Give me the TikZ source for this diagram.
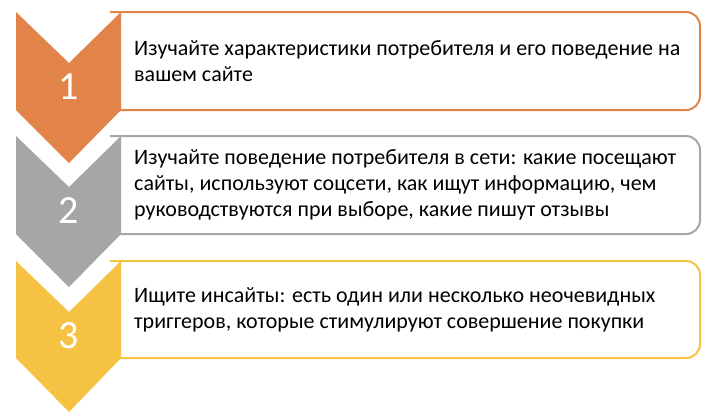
\documentclass[tikz,border=0pt]{standalone}
\usepackage{fontspec}
\setmainfont{Carlito}
\definecolor{cOrange}{HTML}{E2844A}
\definecolor{cGray}{HTML}{A6A6A6}
\definecolor{cGold}{HTML}{F5C244}
\begin{document}
\begin{tikzpicture}[x=1pt,y=-1pt,
  boxline/.style={line width=2pt,rounded corners=14pt},
  numtext/.style={text=white,font=\fontsize{40}{40}\selectfont,inner sep=0pt},
  bodytext/.style={anchor=west,align=left,inner sep=0pt,font=\fontsize{22}{26}\selectfont,text=black}]
\useasboundingbox (0,0) rectangle (714,418);
\fill[white] (0,0) rectangle (714,418);
% step 1
\draw[boxline,draw=cOrange] (110,12) -- (700,12) -- (700,110) -- (110,110);
\fill[cOrange] (16,12) -- (69,63) -- (121,12) -- (121,110) -- (69,163) -- (16,110) -- cycle;
\node[numtext] (n1) at (69,87) {1};
\node[bodytext] (t1) at (134,61) {Изучайте характеристики потребителя и его поведение на\\вашем сайте};
% step 2
\draw[boxline,draw=cGray] (110,136) -- (700,136) -- (700,234) -- (110,234);
\fill[cGray] (16,136) -- (69,187) -- (121,136) -- (121,234) -- (69,287) -- (16,234) -- cycle;
\node[numtext] (n2) at (69,211) {2};
\node[bodytext] (t2) at (134,185) {Изучайте поведение потребителя в сети: какие посещают\\сайты, используют соцсети, как ищут информацию, чем\\руководствуются при выборе, какие пишут отзывы};
% step 3
\draw[boxline,draw=cGold] (110,261) -- (700,261) -- (700,358) -- (110,358);
\fill[cGold] (16,261) -- (69,312) -- (121,261) -- (121,358) -- (69,412) -- (16,358) -- cycle;
\node[numtext] (n3) at (69,336) {3};
\node[bodytext] (t3) at (134,310) {Ищите инсайты: есть один или несколько неочевидных\\триггеров, которые стимулируют совершение покупки};
\end{tikzpicture}
\end{document}
